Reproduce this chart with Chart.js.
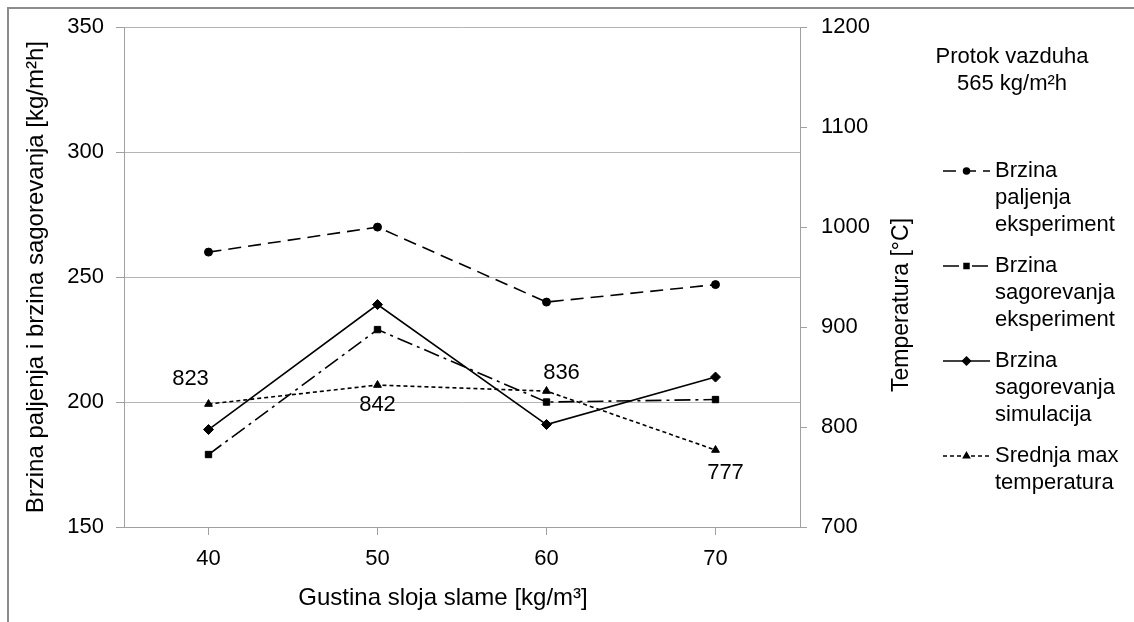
<!DOCTYPE html>
<html><head><meta charset="utf-8">
<script src="https://cdn.jsdelivr.net/npm/chart.js@4.4.1/dist/chart.umd.min.js"></script>
<style>html,body{margin:0;padding:0;background:#fff}#wrap{width:1134px;height:622px;position:relative}</style>
</head><body><div id="wrap"><canvas id="c"></canvas></div>
<script>
// ---- data ----
const categories = ['40', '50', '60', '70'];
const paljenjaEksp = [260, 270, 240, 247];
const sagorevanjaEksp = [179, 229, 200, 201];
const sagorevanjaSim = [189, 239, 191, 210];
const srednjaMaxTemp = [823, 842, 836, 777];
const seriesNames = [
  ['Brzina', 'paljenja', 'eksperiment'],
  ['Brzina', 'sagorevanja', 'eksperiment'],
  ['Brzina', 'sagorevanja', 'simulacija'],
  ['Srednja max', 'temperatura']
];
const leftRange = [150, 350, 50];
const rightRange = [700, 1200, 100];
const legendTitle = ['Protok vazduha', '565 kg/m²h'];
const xTitle = 'Gustina sloja slame [kg/m³]';
const yLeftTitle = 'Brzina paljenja i brzina sagorevanja [kg/m²h]';
const yRightTitle = 'Temperatura [°C]';

// ---- style ----
const FONT = "'Liberation Sans', Arial, sans-serif";
const TICK = 22, TITLE = 24, RTITLE = 23, LEG = 22;
const GRID = '#b4b4b4', AXIS = '#a0a0a0';
const dashes = [[13, 7], [16, 5, 3, 5], [], [4, 3]];
const markers = ['circle', 'rect', 'rectRot', 'triangle'];
const markerR = [4, 4.5, 5, 4.5];
const labelOffsets = [[-18, -25], [0, 20], [15, -18], [10, 23]];

const seriesData = [paljenjaEksp, sagorevanjaEksp, sagorevanjaSim, srednjaMaxTemp];
const datasets = seriesData.map((d, i) => ({
  label: seriesNames[i].join(' '),
  data: d,
  yAxisID: i === 3 ? 'y2' : 'y',
  borderColor: '#000',
  backgroundColor: '#000',
  borderWidth: 1.6,
  borderDash: dashes[i],
  pointStyle: markers[i],
  pointRadius: markerR[i],
  pointBackgroundColor: '#000',
  pointBorderColor: '#000',
  pointBorderWidth: 1,
  tension: 0,
  fill: false
}));

function drawSym(ctx, i, x0, x1, y) {
  ctx.save();
  ctx.strokeStyle = '#000'; ctx.lineWidth = 1.5;
  ctx.setLineDash(dashes[i]);
  ctx.beginPath(); ctx.moveTo(x0, y); ctx.lineTo(x1, y); ctx.stroke();
  ctx.setLineDash([]);
  ctx.fillStyle = '#000';
  Chart.helpers.drawPoint(ctx, {pointStyle: markers[i], radius: markerR[i] - 1, rotation: 0, borderWidth: 1}, (x0 + x1) / 2, y);
  ctx.restore();
}

const extras = {
  id: 'extras',
  afterDatasetsDraw(chart) {
    const ctx = chart.ctx;
    ctx.save();
    ctx.font = `${TICK}px ${FONT}`;
    ctx.fillStyle = '#000'; ctx.textAlign = 'center'; ctx.textBaseline = 'middle';
    const meta = chart.getDatasetMeta(3);
    meta.data.forEach((p, k) => {
      ctx.fillText(String(srednjaMaxTemp[k]), p.x + labelOffsets[k][0], p.y + labelOffsets[k][1]);
    });
    ctx.restore();
  },
  afterDraw(chart) {
    const ctx = chart.ctx;
    ctx.save();
    // outer frame
    ctx.strokeStyle = '#8c8c8c'; ctx.lineWidth = 2;
    ctx.beginPath(); ctx.moveTo(8, 622); ctx.lineTo(8, 8); ctx.lineTo(1134, 8); ctx.stroke();
    ctx.fillStyle = '#000';
    ctx.font = `${TITLE}px ${FONT}`; ctx.textAlign = 'center'; ctx.textBaseline = 'middle';
    // x axis title
    ctx.fillText(xTitle, 443, 598);
    // right axis title
    ctx.font = `${RTITLE}px ${FONT}`;
    ctx.save(); ctx.translate(902, 305); ctx.rotate(-Math.PI / 2); ctx.fillText(yRightTitle, 0, 0); ctx.restore();
    // legend title
    ctx.font = `${LEG}px ${FONT}`;
    ctx.fillText(legendTitle[0], 1012, 57);
    ctx.fillText(legendTitle[1], 1012, 84);
    // legend items
    ctx.textAlign = 'left';
    let y = 171;
    seriesNames.forEach((lines, i) => {
      drawSym(ctx, i, 943, 990, y);
      ctx.fillStyle = '#000';
      lines.forEach((t, j) => ctx.fillText(t, 995, y + j * 27));
      y += 95;
    });
    ctx.restore();
  }
};

new Chart(document.getElementById('c'), {
  type: 'line',
  data: {labels: categories, datasets},
  plugins: [extras],
  options: {
    responsive: true, maintainAspectRatio: false, animation: false,
    layout: {padding: {left: 0, right: 234, top: 26, bottom: 0}},
    plugins: {legend: {display: false}, tooltip: {enabled: false}},
    scales: {
      x: {
        type: 'category', offset: true,
        grid: {drawOnChartArea: false, drawTicks: true, tickLength: 8, color: AXIS, offset: false},
        border: {display: true, color: AXIS, width: 1},
        ticks: {font: {size: TICK, family: FONT}, color: '#000', padding: 11, maxRotation: 0},
        title: {display: false},
        afterFit(s) { s.height = 95; }
      },
      y: {
        position: 'left', min: leftRange[0], max: leftRange[1],
        grid: {color: GRID, lineWidth: 1, drawTicks: true, tickLength: 8, tickColor: AXIS},
        border: {display: true, color: AXIS, width: 1},
        ticks: {stepSize: leftRange[2], font: {size: TICK, family: FONT}, color: '#000', padding: 12},
        title: {display: true, text: yLeftTitle, font: {size: TITLE, family: FONT}, color: '#000', padding: {top: 22, bottom: 0}},
        afterFit(s) { s.width = 124; }
      },
      y2: {
        position: 'right', min: rightRange[0], max: rightRange[1],
        grid: {drawOnChartArea: false, drawTicks: true, tickLength: 7, color: AXIS},
        border: {display: true, color: AXIS, width: 1},
        ticks: {stepSize: rightRange[2], font: {size: TICK, family: FONT}, color: '#000', padding: 14,
                callback: v => String(v)},
        afterFit(s) { s.width = 100; }
      }
    }
  }
});
</script></body></html>
